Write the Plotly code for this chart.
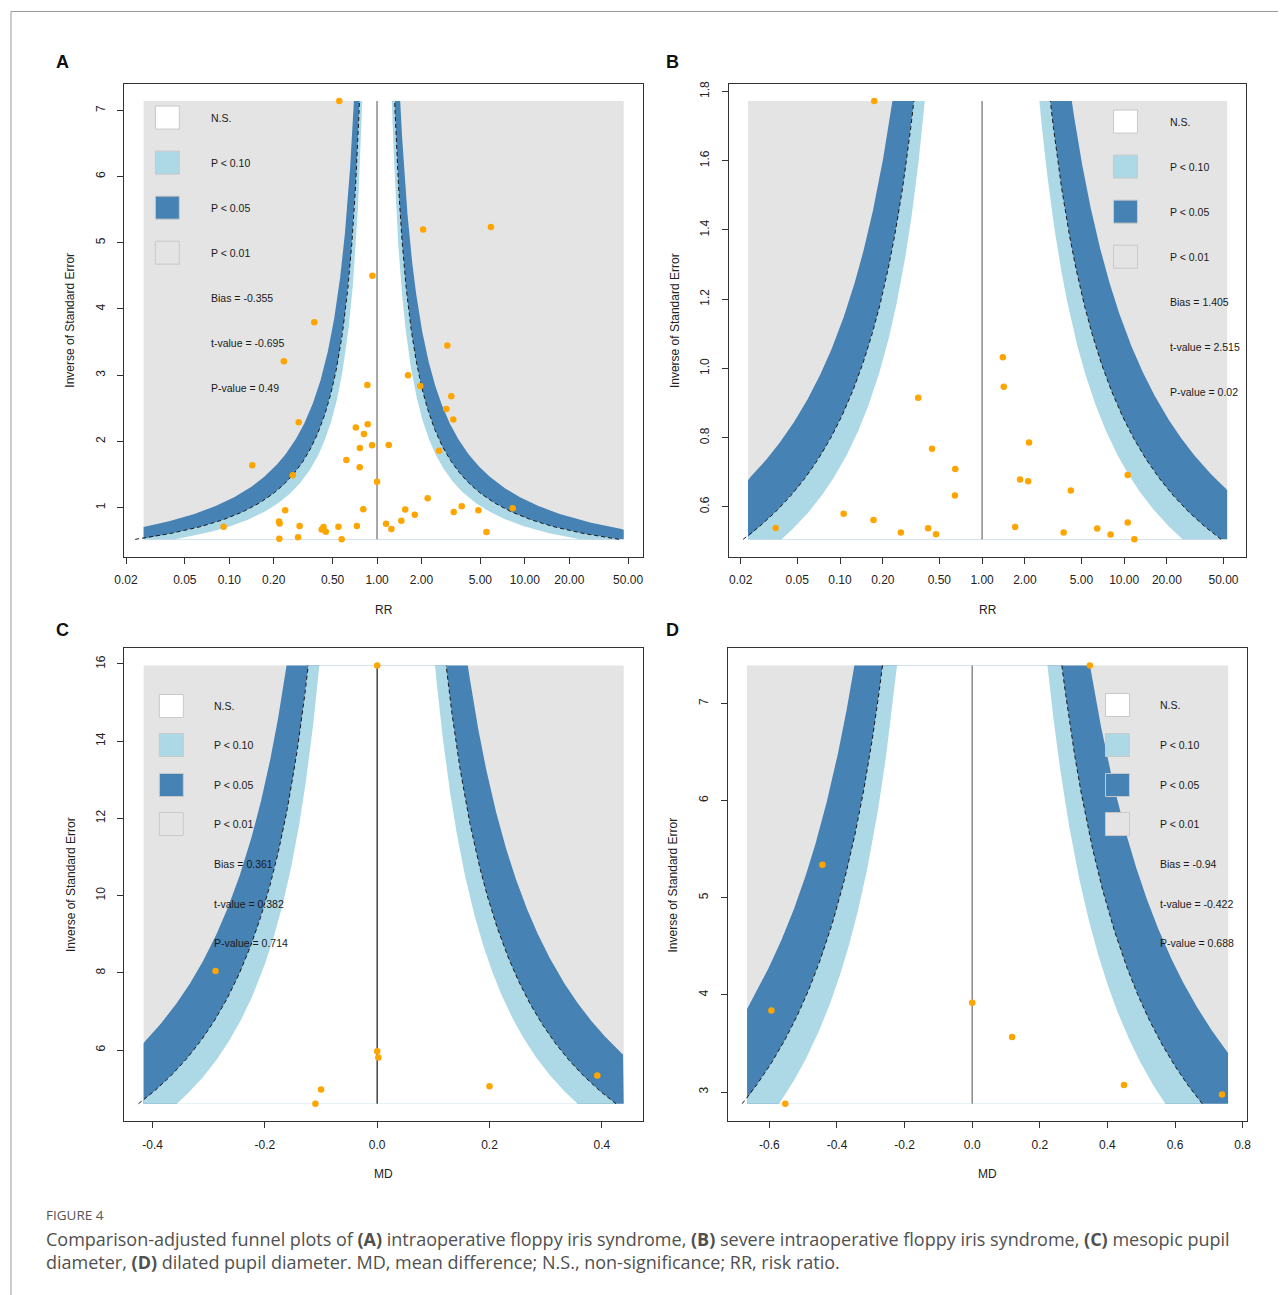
import numpy as np
import plotly.graph_objects as go

W, H = 1282, 1295

# ---------------- data ----------------
# Panel A: intraoperative floppy iris syndrome (RR vs inverse SE)
a_rr = [0.555, 2.05, 5.9, 0.93, 0.376, 0.234, 2.99, 1.62, 0.86, 1.96,
        3.18, 2.94, 3.28, 0.295, 0.718, 0.864, 0.815, 0.925, 1.20, 0.765,
        2.63, 0.62, 0.143, 0.763, 0.269, 1.00, 2.20, 8.28, 3.74, 0.807,
        1.55, 0.239, 4.85, 3.30, 1.80, 1.46, 0.217, 0.219, 1.15, 0.0915,
        0.299, 0.434, 0.548, 0.730, 0.422, 0.450, 1.25, 5.50, 0.218, 0.292,
        0.576]
a_inv = [7.14, 5.20, 5.24, 4.50, 3.80, 3.21, 3.45, 3.00, 2.85, 2.835,
         2.68, 2.49, 2.33, 2.29, 2.21, 2.26, 2.11, 1.94, 1.945, 1.90,
         1.86, 1.72, 1.64, 1.61, 1.49, 1.39, 1.14, 0.99, 1.02, 0.975,
         0.97, 0.96, 0.96, 0.935, 0.89, 0.80, 0.79, 0.76, 0.755, 0.71,
         0.72, 0.705, 0.71, 0.72, 0.67, 0.635, 0.678, 0.63, 0.53, 0.55,
         0.52]
# Panel B: severe IFIS
b_rr = [0.174, 1.40, 1.42, 0.355, 2.14, 0.444, 0.647, 10.6, 1.85, 2.11,
        4.21, 0.644, 0.106, 0.172, 10.6, 0.0352, 0.417, 1.71, 6.46, 0.268,
        3.75, 0.474, 8.02, 11.8]
b_inv = [1.772, 1.032, 0.947, 0.915, 0.786, 0.768, 0.709, 0.692, 0.679, 0.674,
         0.647, 0.633, 0.580, 0.562, 0.555, 0.539, 0.538, 0.542, 0.537, 0.526,
         0.526, 0.521, 0.520, 0.506]
# Panel C: mesopic pupil diameter (MD)
c_md = [0.0, -0.288, 0.0, 0.002, 0.392, 0.200, -0.100, -0.110]
c_inv = [15.96, 8.05, 5.97, 5.81, 5.34, 5.06, 4.98, 4.61]
# Panel D: dilated pupil diameter (MD)
d_md = [0.348, -0.443, -0.594, 0.0, 0.118, 0.449, 0.739, -0.553]
d_inv = [7.39, 5.34, 3.84, 3.92, 3.566, 3.072, 2.975, 2.88]

# x limits of the shaded region
a_xlim = [0.0263, 46.7]
b_xlim = [0.0225, 53.1]
c_xlim = [-0.416, 0.439]
d_xlim = [-0.666, 0.757]

rr_ticks = [0.02, 0.05, 0.1, 0.2, 0.5, 1, 2, 5, 10, 20, 50]
rr_labels = ["0.02", "0.05", "0.10", "0.20", "0.50", "1.00", "2.00", "5.00", "10.00", "20.00", "50.00"]
a_yticks = [1, 2, 3, 4, 5, 6, 7]
b_yticks = [0.6, 0.8, 1.0, 1.2, 1.4, 1.6, 1.8]
b_ylabels = ["0.6", "0.8", "1.0", "1.2", "1.4", "1.6", "1.8"]
c_xticks = [-0.4, -0.2, 0.0, 0.2, 0.4]
c_xlabels = ["-0.4", "-0.2", "0.0", "0.2", "0.4"]
c_yticks = [6, 8, 10, 12, 14, 16]
d_xticks = [-0.6, -0.4, -0.2, 0.0, 0.2, 0.4, 0.6, 0.8]
d_xlabels = ["-0.6", "-0.4", "-0.2", "0.0", "0.2", "0.4", "0.6", "0.8"]
d_yticks = [3, 4, 5, 6, 7]

legend_labels = ["N.S.", "P < 0.10", "P < 0.05", "P < 0.01"]
a_stats = ["Bias = -0.355", "t-value = -0.695", "P-value = 0.49"]
b_stats = ["Bias = 1.405", "t-value = 2.515", "P-value = 0.02"]
c_stats = ["Bias = 0.361", "t-value = 0.382", "P-value = 0.714"]
d_stats = ["Bias = -0.94", "t-value = -0.422", "P-value = 0.688"]

Z90, Z95, Z99 = 1.644854, 1.959964, 2.575829

C_GRAY = "#e4e4e4"
C_LB = "#add8e6"
C_SB = "#4682b4"
C_PT = "#ffa500"
FONT = "Liberation Sans, Arial, Helvetica, sans-serif"

panels = [
    dict(letter="A", x=a_rr, y=a_inv, log=True, xlim=a_xlim, frame=(124, 84, 643, 557),
         xt=rr_ticks, xtl=rr_labels, yt=a_yticks, ytl=[str(v) for v in a_yticks], xtitle="RR",
         sq_x=155, lab_x=209, rows=[118, 163, 208, 253, 298, 343, 388], stats=a_stats,
         ref="#8a8a8a", letter_pos=(62, 62), ytitle_x=70),
    dict(letter="B", x=b_rr, y=b_inv, log=True, xlim=b_xlim, frame=(729, 84, 1247, 557),
         xt=rr_ticks, xtl=rr_labels, yt=b_yticks, ytl=b_ylabels, xtitle="RR",
         sq_x=1114, lab_x=1169, rows=[122, 167, 212, 257, 302, 347, 392], stats=b_stats,
         ref="#8a8a8a", letter_pos=(673, 62), ytitle_x=675),
    dict(letter="C", x=c_md, y=c_inv, log=False, xlim=c_xlim, frame=(124, 648, 643, 1121),
         xt=c_xticks, xtl=c_xlabels, yt=c_yticks, ytl=[str(v) for v in c_yticks], xtitle="MD",
         sq_x=159, lab_x=212, rows=[706, 745, 785, 824, 864, 904, 943], stats=c_stats,
         ref="#444444", letter_pos=(62, 630), ytitle_x=70),
    dict(letter="D", x=d_md, y=d_inv, log=False, xlim=d_xlim, frame=(728, 648, 1248, 1121),
         xt=d_xticks, xtl=d_xlabels, yt=d_yticks, ytl=[str(v) for v in d_yticks], xtitle="MD",
         sq_x=1106, lab_x=1159, rows=[705, 745, 785, 824, 864, 904, 943], stats=d_stats,
         ref="#8a8a8a", letter_pos=(673, 630), ytitle_x=673),
]


# pixel -> paper (with small correction for the page placement in the screenshot)
def pxx(p):
    return min(max(((p - 9.5) / 0.99) / W, 0.0), 1.0)


def pxy(p):
    return min(max(1 - ((p - 3.5) / 0.997) / H, 0.0), 1.0)


fig = go.Figure()
shapes = []
annotations = []
layout = {}

for i, p in enumerate(panels, start=1):
    xa = "x" if i == 1 else f"x{i}"
    ya = "y" if i == 1 else f"y{i}"
    xs = np.array(p["x"], dtype=float)
    ys = np.array(p["y"], dtype=float)
    ymin, ymax = ys.min(), ys.max()
    if p["log"]:
        elo, ehi = np.log(p["xlim"][0]), np.log(p["xlim"][1])
        tf = np.exp
    else:
        elo, ehi = p["xlim"]
        tf = lambda v: v
    yg = np.linspace(ymin, ymax, 500)

    # p < 0.01 background
    fig.add_trace(go.Scatter(x=tf(np.array([elo, ehi, ehi, elo, elo])),
                             y=[ymin, ymin, ymax, ymax, ymin], fill="toself",
                             fillcolor=C_GRAY, line=dict(width=0), mode="lines",
                             hoverinfo="skip", xaxis=xa, yaxis=ya))
    # contour regions
    for z, col in [(Z99, C_SB), (Z95, C_LB), (Z90, "#ffffff")]:
        xr = np.minimum(z / yg, ehi)
        xl = np.maximum(-z / yg, elo)
        fig.add_trace(go.Scatter(x=tf(np.concatenate([xr, xl[::-1]])),
                                 y=np.concatenate([yg, yg[::-1]]), fill="toself",
                                 fillcolor=col, line=dict(width=0), mode="lines",
                                 hoverinfo="skip", xaxis=xa, yaxis=ya))
    # 95% pseudo-confidence lines
    for s in (-1, 1):
        fig.add_trace(go.Scatter(x=tf(s * Z95 / yg), y=yg, mode="lines",
                                 line=dict(color="#1a1a1a", width=1, dash="4px,3px"),
                                 hoverinfo="skip", xaxis=xa, yaxis=ya))
    # reference line
    fig.add_trace(go.Scatter(x=tf(np.array([0.0, 0.0])), y=[ymin, ymax], mode="lines",
                             line=dict(color=p["ref"], width=1.5), hoverinfo="skip",
                             xaxis=xa, yaxis=ya))
    # studies
    fig.add_trace(go.Scatter(x=xs, y=ys, mode="markers",
                             marker=dict(color=C_PT, size=6.5, line=dict(width=0)),
                             xaxis=xa, yaxis=ya))

    if p["log"]:
        lo, hi = np.log10(p["xlim"][0]), np.log10(p["xlim"][1])
    else:
        lo, hi = p["xlim"]
    pad = 0.04 * (hi - lo)
    ypad = 0.04 * (ymax - ymin)
    L, T, R, B = p["frame"]
    common = dict(showline=True, mirror=True, linecolor="#333333", linewidth=1,
                  ticks="outside", ticklen=6, tickwidth=1, tickcolor="#333333",
                  showgrid=False, zeroline=False,
                  tickfont=dict(family=FONT, size=12, color="#222222"))
    layout["xaxis" if i == 1 else f"xaxis{i}"] = dict(
        domain=[pxx(L), pxx(R)], range=[lo - pad, hi + pad],
        type="log" if p["log"] else "linear", tickvals=p["xt"], ticktext=p["xtl"],
        anchor=ya, ticklabelstandoff=6, **common)
    layout["yaxis" if i == 1 else f"yaxis{i}"] = dict(
        domain=[pxy(B), pxy(T)], range=[ymin - ypad, ymax + ypad],
        tickvals=p["yt"], ticktext=p["ytl"], tickangle=-90, anchor=xa,
        ticklabelstandoff=8, **common)

    annotations.append(dict(text=p["xtitle"], x=pxx((L + R) / 2), y=pxy(B + 53), xref="paper",
                            yref="paper", showarrow=False, xanchor="center", yanchor="middle",
                            font=dict(family=FONT, size=12, color="#222222")))
    annotations.append(dict(text="Inverse of Standard Error", x=pxx(p["ytitle_x"]),
                            y=pxy((T + B) / 2), xref="paper", yref="paper", showarrow=False,
                            textangle=-90, xanchor="center", yanchor="middle",
                            font=dict(family=FONT, size=12, color="#222222")))
    annotations.append(dict(text=f"<b>{p['letter']}</b>", x=pxx(p["letter_pos"][0]),
                            y=pxy(p["letter_pos"][1]), xref="paper", yref="paper",
                            showarrow=False, xanchor="center", yanchor="middle",
                            font=dict(family=FONT, size=18, color="#111111")))
    for k, (lab, col) in enumerate(zip(legend_labels, ["#ffffff", C_LB, C_SB, C_GRAY])):
        cy = p["rows"][k]
        shapes.append(dict(type="rect", xref="paper", yref="paper",
                           x0=pxx(p["sq_x"]), x1=pxx(p["sq_x"] + 24),
                           y0=pxy(cy - 11.5), y1=pxy(cy + 11.5),
                           fillcolor=col, line=dict(color="#c9c9c9", width=1), layer="above"))
        annotations.append(dict(text=lab, x=pxx(p["lab_x"]), y=pxy(cy), xref="paper", yref="paper",
                                showarrow=False, xanchor="left", yanchor="middle",
                                font=dict(family=FONT, size=10.5, color="#1a1a1a")))
    for k, st in enumerate(p["stats"]):
        cy = p["rows"][4 + k]
        annotations.append(dict(text=st, x=pxx(p["lab_x"]), y=pxy(cy), xref="paper", yref="paper",
                                showarrow=False, xanchor="left", yanchor="middle",
                                font=dict(family=FONT, size=10.5, color="#1a1a1a")))

# card border
shapes.append(dict(type="line", xref="paper", yref="paper", x0=pxx(10.5), x1=1.0,
                   y0=pxy(12), y1=pxy(12), line=dict(color="#9a9a9a", width=1)))
shapes.append(dict(type="line", xref="paper", yref="paper", x0=pxx(10.5), x1=pxx(10.5),
                   y0=pxy(12), y1=0.0, line=dict(color="#9a9a9a", width=1)))

CAP = "Open Sans, Noto Sans, sans-serif"
annotations.append(dict(text="FIGURE 4", x=pxx(44), y=pxy(1215), xref="paper", yref="paper",
                        showarrow=False, xanchor="left", yanchor="middle",
                        font=dict(family=CAP, size=13.5, color="#555555")))
annotations.append(dict(
    text="Comparison-adjusted funnel plots of <b>(A)</b> intraoperative floppy iris syndrome, "
         "<b>(B)</b> severe intraoperative floppy iris syndrome, <b>(C)</b> mesopic pupil",
    x=pxx(44), y=pxy(1239), xref="paper", yref="paper", showarrow=False,
    xanchor="left", yanchor="middle", font=dict(family=CAP, size=18, color="#505050")))
annotations.append(dict(
    text="diameter, <b>(D)</b> dilated pupil diameter. MD, mean difference; N.S., "
         "non-significance; RR, risk ratio.",
    x=pxx(44), y=pxy(1262), xref="paper", yref="paper", showarrow=False,
    xanchor="left", yanchor="middle", font=dict(family=CAP, size=18, color="#505050")))

fig.update_layout(width=W, height=H, margin=dict(l=0, r=0, t=0, b=0, pad=0),
                  paper_bgcolor="white", plot_bgcolor="white", showlegend=False,
                  shapes=shapes, annotations=annotations, **layout)
fig.write_html("out.html", config={"displayModeBar": False},
               post_script="document.body.style.margin='0';document.body.style.overflow='hidden';")
